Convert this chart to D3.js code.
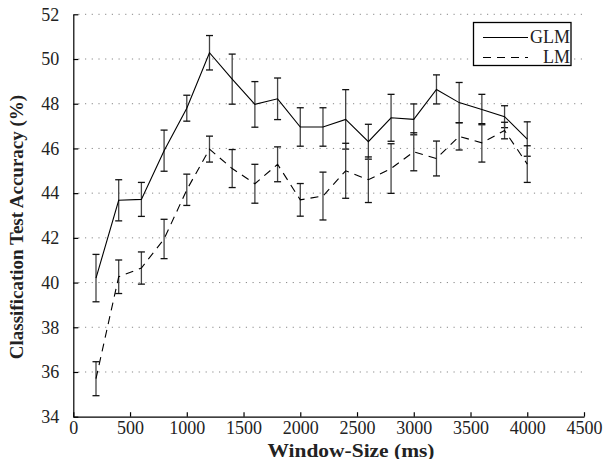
<!DOCTYPE html>
<html>
<head>
<meta charset="utf-8">
<script src="https://cdn.jsdelivr.net/npm/d3@7"></script>
<style>
  body { margin: 0; background: #fff; }
  svg { display: block; }
  svg text { font-family: "Liberation Serif", "Times New Roman", serif; }
  .grid line { stroke: #888; stroke-dasharray: 1.2,5.5; }
</style>
</head>
<body>
<div id="chart"></div>
<script>
// window sizes (ms)
var windowSizes = [200, 400, 600, 800, 1000, 1200, 1400, 1600, 1800, 2000,
                   2200, 2400, 2600, 2800, 3000, 3200, 3400, 3600, 3800, 4000];
// GLM accuracy (%) and error
var glmMean = [40.2, 43.68, 43.72, 45.9, 47.8, 50.28, 49.1, 47.97, 48.22, 46.96,
               46.96, 47.3, 46.3, 47.37, 47.3, 48.64, 48.05, 47.74, 47.42, 46.42];
var glmErr  = [1.06, 0.92, 0.76, 0.92, 0.58, 0.77, 1.12, 1.02, 0.93, 0.86,
               0.86, 1.33, 0.78, 1.05, 0.69, 0.65, 0.9, 0.68, 0.49, 0.77];
// LM accuracy (%) and error
var lmMean = [35.7, 40.26, 40.65, 41.95, 44.15, 45.97, 45.1, 44.42, 45.29, 43.7,
              43.87, 45.0, 44.6, 45.1, 45.85, 45.55, 46.54, 46.25, 46.8, 45.3];
var lmErr  = [0.76, 0.75, 0.72, 0.88, 0.7, 0.58, 0.85, 0.87, 0.78, 0.73,
              1.07, 1.23, 1.02, 1.11, 0.85, 0.78, 0.61, 0.86, 0.37, 0.82];

var xTicks = [0, 500, 1000, 1500, 2000, 2500, 3000, 3500, 4000, 4500];
var yTicks = [34, 36, 38, 40, 42, 44, 46, 48, 50, 52];

var width = 605, height = 459;
var margin = {top: 14.3, right: 21, bottom: 42.3, left: 73.3};

var svg = d3.select("#chart").append("svg")
    .attr("width", width)
    .attr("height", height);

var xScale = d3.scaleLinear().domain([0, 4500]).range([margin.left, width - margin.right]);
var yScale = d3.scaleLinear().domain([34, 52]).range([height - margin.bottom, margin.top]);

// dotted horizontal grid
svg.append("g").attr("class", "grid")
   .selectAll("line")
   .data(yTicks.filter(function(d) { return d > 34; }))
   .enter().append("line")
   .attr("x1", xScale(0) + 5)
   .attr("x2", xScale(4500))
   .attr("y1", function(d) { return yScale(d); })
   .attr("y2", function(d) { return yScale(d); });

var xAxis = d3.axisBottom(xScale).tickValues(xTicks).tickFormat(d3.format("d"))
    .tickSize(-4.5).tickSizeOuter(0).tickPadding(5);
var yAxis = d3.axisLeft(yScale).tickValues(yTicks).tickFormat(d3.format("d"))
    .tickSize(-5).tickSizeOuter(0).tickPadding(14);

var gx = svg.append("g")
   .attr("transform", "translate(0," + yScale(34) + ")")
   .call(xAxis);
var gy = svg.append("g")
   .attr("transform", "translate(" + xScale(0) + ",0)")
   .call(yAxis);

[gx, gy].forEach(function(g) {
    g.attr("font-family", '"Liberation Serif", serif').attr("font-size", 18);
    g.selectAll("path, line").attr("stroke", "#000").attr("stroke-width", 1.2);
    g.selectAll("text").attr("fill", "#222");
});

// series
var series = [
    {name: "GLM", mean: glmMean, err: glmErr, dash: null},
    {name: "LM",  mean: lmMean,  err: lmErr,  dash: "8,6"}
];

var line = d3.line()
    .x(function(d) { return xScale(d[0]); })
    .y(function(d) { return yScale(d[1]); });

series.forEach(function(s) {
    var pts = windowSizes.map(function(w, i) { return [w, s.mean[i], s.err[i]]; });

    var bars = svg.append("g");
    bars.selectAll("line.v").data(pts).enter().append("line")
        .attr("x1", function(d) { return xScale(d[0]); })
        .attr("x2", function(d) { return xScale(d[0]); })
        .attr("y1", function(d) { return yScale(d[1] + d[2]); })
        .attr("y2", function(d) { return yScale(d[1] - d[2]); })
        .attr("stroke", "#444").attr("stroke-width", 1.3);
    [1, -1].forEach(function(sign) {
        bars.selectAll("line.c" + sign).data(pts).enter().append("line")
            .attr("x1", function(d) { return xScale(d[0]) - 3.5; })
            .attr("x2", function(d) { return xScale(d[0]) + 3.5; })
            .attr("y1", function(d) { return yScale(d[1] + sign * d[2]); })
            .attr("y2", function(d) { return yScale(d[1] + sign * d[2]); })
            .attr("stroke", "#111").attr("stroke-width", 1.3);
    });

    svg.append("path")
       .datum(pts)
       .attr("d", line)
       .attr("fill", "none")
       .attr("stroke", "#000")
       .attr("stroke-width", 1.1)
       .attr("stroke-dasharray", s.dash);
});

// legend
var legend = svg.append("g");
legend.append("rect")
      .attr("x", 473.5).attr("y", 22.5)
      .attr("width", 97.5).attr("height", 43)
      .attr("fill", "#fff").attr("stroke", "#000").attr("stroke-width", 1.3);
series.forEach(function(s, i) {
    var ly = 37.5 + i * 20;
    legend.append("line")
          .attr("x1", 483).attr("x2", 528)
          .attr("y1", ly).attr("y2", ly)
          .attr("stroke", "#000").attr("stroke-width", 1.1)
          .attr("stroke-dasharray", s.dash);
    legend.append("text")
          .attr("x", 570).attr("y", ly + 5.5)
          .attr("text-anchor", "end")
          .style("font-size", "18px")
          .attr("fill", "#222")
          .text(s.name);
});

// axis titles
svg.append("text")
   .attr("x", 351).attr("y", 456.5)
   .attr("text-anchor", "middle")
   .attr("textLength", 167)
   .attr("lengthAdjust", "spacingAndGlyphs")
   .style("font-size", "18px")
   .style("font-weight", "bold")
   .attr("fill", "#222")
   .text("Window-Size  (ms)");

svg.append("text")
   .attr("transform", "translate(23,227) rotate(-90)")
   .attr("text-anchor", "middle")
   .style("font-size", "19px")
   .style("font-weight", "bold")
   .attr("fill", "#222")
   .text("Classification  Test  Accuracy  (%)");
</script>
</body>
</html>
